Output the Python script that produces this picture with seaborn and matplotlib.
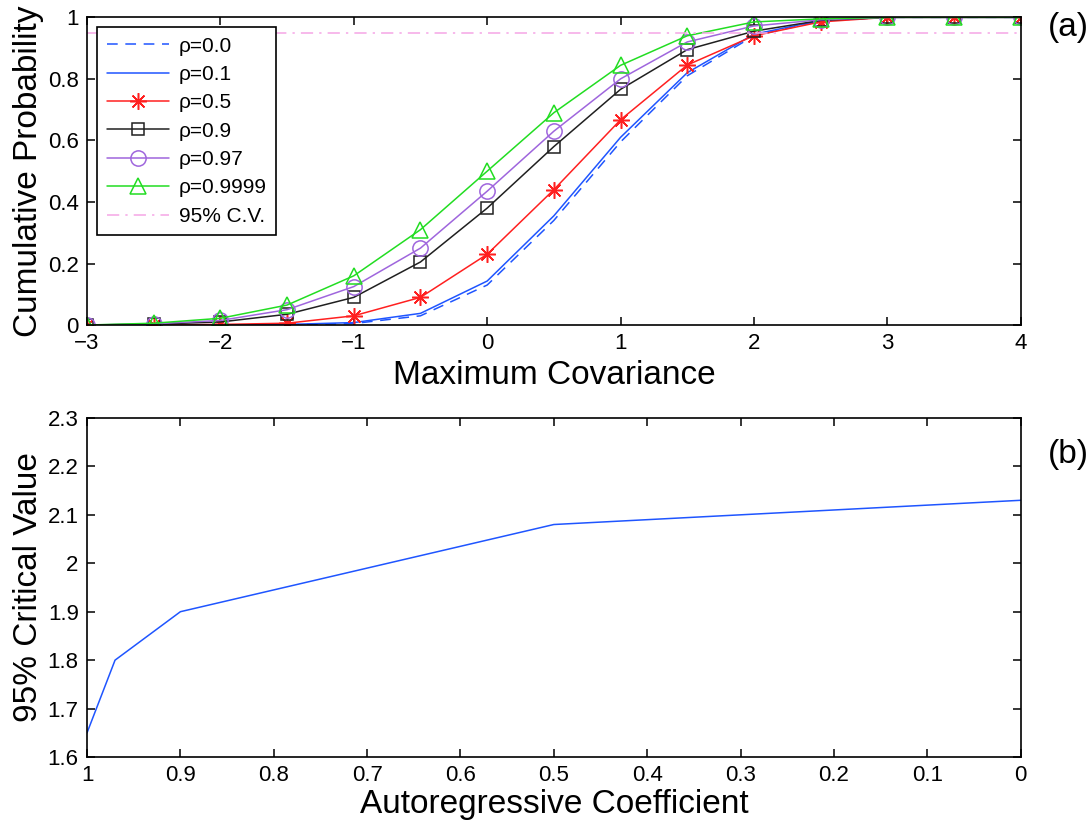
import matplotlib

matplotlib.use("Agg")
import matplotlib.pyplot as plt
import numpy as np
import pandas as pd
import seaborn as sns

# panel (a): cumulative probability of the maximum covariance
max_cov = [-3, -2.5, -2, -1.5, -1, -0.5, 0, 0.5, 1, 1.5, 2, 2.5, 3, 3.5, 4]
rho_00 = [0, 0, 0, 0.001, 0.005, 0.03, 0.13, 0.34, 0.595, 0.81, 0.94, 0.988, 1, 1, 1]
rho_01 = [0, 0, 0, 0.002, 0.008, 0.038, 0.143, 0.355, 0.61, 0.82, 0.945, 0.99, 1, 1, 1]
rho_05 = [0, 0, 0.002, 0.006, 0.03, 0.09, 0.23, 0.44, 0.667, 0.845, 0.94, 0.985, 1, 1, 1]
rho_09 = [0, 0.003, 0.01, 0.035, 0.09, 0.205, 0.38, 0.58, 0.766, 0.895, 0.955, 0.99, 1, 1, 1]
rho_097 = [0, 0.004, 0.015, 0.05, 0.125, 0.25, 0.435, 0.63, 0.80, 0.92, 0.972, 0.992, 1, 1, 1]
rho_09999 = [0, 0.006, 0.022, 0.065, 0.16, 0.31, 0.50, 0.69, 0.844, 0.94, 0.985, 0.995, 1, 1, 1]
cv_level = 0.95

# panel (b): 95% critical value vs autoregressive coefficient
ar_coef = [1.0, 0.97, 0.9, 0.5, 0.0]
crit_val = [1.65, 1.80, 1.90, 2.08, 2.13]

sns.set_style("ticks")
plt.rcParams["font.family"] = ["Liberation Sans", "DejaVu Sans"]
plt.rcParams["axes.linewidth"] = 1.2
plt.rcParams["xtick.direction"] = "in"
plt.rcParams["ytick.direction"] = "in"
plt.rcParams["xtick.major.size"] = 6
plt.rcParams["ytick.major.size"] = 6
for key in ("text.color", "axes.labelcolor", "xtick.color", "ytick.color",
            "axes.edgecolor"):
    plt.rcParams[key] = "black"

fig = plt.figure(figsize=(10.92, 8.25), dpi=100)
ax1 = fig.add_axes([0.0797, 0.606, 0.855, 0.373])
ax2 = fig.add_axes([0.0797, 0.0824, 0.855, 0.411])

series = [
    ("ρ=0.0", rho_00, "#1f55ff", (0, (7, 5)), None, 10),
    ("ρ=0.1", rho_01, "#1f55ff", "-", None, 10),
    ("ρ=0.5", rho_05, "#ff2020", "-", (8, 2, 0), 12),
    ("ρ=0.9", rho_09, "#202020", "-", "s", 9),
    ("ρ=0.97", rho_097, "#9f66dd", "-", "o", 11),
    ("ρ=0.9999", rho_09999, "#22dd22", "-", "^", 12),
]
for label, vals, color, ls, mk, ms in series:
    df = pd.DataFrame({"x": max_cov, "y": vals})
    sns.lineplot(data=df, x="x", y="y", ax=ax1, color=color, linestyle=ls,
                 marker=mk, markersize=ms, markerfacecolor="none",
                 markeredgecolor=color, markeredgewidth=1.1, linewidth=1.1,
                 label=label)
sns.lineplot(x=[max_cov[0], max_cov[-1]], y=[cv_level, cv_level], ax=ax1,
             color="#f5a6e6", linestyle=(0, (8, 4, 1.5, 4)), linewidth=1.1,
             label="95% C.V.")

ax1.set_xlim(-3, 4)
ax1.set_ylim(0, 1)
ax1.set_xticks(np.arange(-3, 5, 1))
ax1.set_xticklabels(["\u22123", "\u22122", "\u22121", "0", "1", "2", "3", "4"])
ax1.set_yticks([0, 0.2, 0.4, 0.6, 0.8, 1])
ax1.set_yticklabels(["0", "0.2", "0.4", "0.6", "0.8", "1"])
ax1.set_xlabel("Maximum Covariance", fontsize=24, labelpad=4)
ax1.set_ylabel("Cumulative Probability", fontsize=24, labelpad=3)
leg = ax1.legend(loc="upper left", bbox_to_anchor=(0.011, 0.968), fontsize=15,
                 frameon=True, fancybox=False, edgecolor="black",
                 handlelength=3.0, borderpad=0.45, labelspacing=0.45,
                 handletextpad=0.45, borderaxespad=0)
leg.get_frame().set_linewidth(1.2)
leg.get_frame().set_alpha(1)

sns.lineplot(x=ar_coef, y=crit_val, ax=ax2, color="#1f55ff", linewidth=1.1)
ax2.set_xlim(1, 0)
ax2.set_ylim(1.6, 2.3)
ax2.set_xticks(np.arange(0, 1.01, 0.1))
ax2.set_xticklabels(["0", "0.1", "0.2", "0.3", "0.4", "0.5", "0.6", "0.7",
                     "0.8", "0.9", "1"])
ax2.set_yticks(np.arange(1.6, 2.31, 0.1))
ax2.set_yticklabels(["1.6", "1.7", "1.8", "1.9", "2", "2.1", "2.2", "2.3"])
ax2.set_xlabel("Autoregressive Coefficient", fontsize=24, labelpad=2)
ax2.set_ylabel("95% Critical Value", fontsize=24, labelpad=3)

for ax in (ax1, ax2):
    ax.tick_params(labelsize=16, top=True, right=True, width=1.1, pad=6)
    for sp in ax.spines.values():
        sp.set_visible(True)
        sp.set_color("black")

fig.text(0.997, 0.985, "(a)", fontsize=24, ha="right", va="top")
fig.text(0.997, 0.468, "(b)", fontsize=24, ha="right", va="top")

fig.savefig("out.png", dpi=100)
